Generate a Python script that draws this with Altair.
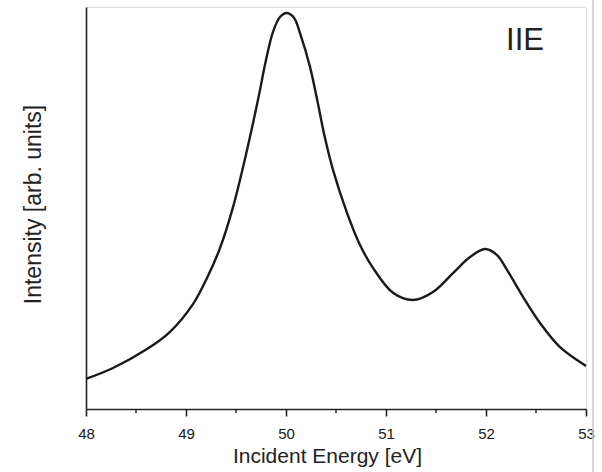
import altair as alt
import pandas as pd

# Incident energy (eV) and intensity (arb. units)
energy = [48.00, 48.27, 48.61, 48.84, 49.07, 49.21, 49.34, 49.47, 49.61, 49.72,
          49.80, 49.87, 49.94, 50.01, 50.08, 50.14, 50.24, 50.31, 50.39, 50.47,
          50.61, 50.74, 50.87, 51.07, 51.27, 51.47, 51.67, 51.84, 51.99, 52.11,
          52.21, 52.37, 52.54, 52.74, 53.00]
intensity = [0.075, 0.102, 0.149, 0.192, 0.261, 0.326, 0.400, 0.502, 0.644, 0.769,
             0.868, 0.938, 0.975, 0.985, 0.973, 0.935, 0.851, 0.771, 0.674, 0.595,
             0.488, 0.408, 0.351, 0.289, 0.271, 0.291, 0.338, 0.378, 0.398, 0.383,
             0.346, 0.279, 0.214, 0.154, 0.107]

major_ticks = [48, 49, 50, 51, 52, 53]
minor_ticks = [48.5, 49.5, 50.5, 51.5, 52.5]

FONT = "Liberation Sans"
W, H = 500, 402

df = pd.DataFrame({"energy": energy, "intensity": intensity})
minor_df = pd.DataFrame({"tick": minor_ticks})

xscale = alt.Scale(domain=[48, 53], nice=False, zero=False)
yscale = alt.Scale(domain=[0, 1], nice=False, zero=True)

line = alt.Chart(df).mark_line(
    color="#1a1a1a", strokeWidth=2.4, interpolate="catmull-rom"
).encode(
    x=alt.X("energy:Q", scale=xscale,
            axis=alt.Axis(values=major_ticks, title="Incident Energy [eV]",
                          format="d", grid=False, domainColor="#222",
                          domainWidth=1.6, tickColor="#222", tickWidth=1.6,
                          tickSize=7, labelFont=FONT, labelFontSize=15,
                          labelColor="#1a1a1a", labelPadding=22,
                          labelBaseline="alphabetic", labelFlush=False,
                          titleFont=FONT, titleFontSize=21,
                          titleFontWeight="normal", titleColor="#222",
                          titleX=241, titleY=53, titleBaseline="alphabetic",
                          titleAlign="center")),
    y=alt.Y("intensity:Q", scale=yscale,
            axis=alt.Axis(title="Intensity [arb. units]", labels=False,
                          ticks=False, grid=False, domainColor="#222",
                          domainWidth=1.6, titleFont=FONT, titleFontSize=23,
                          titleFontWeight="normal", titleColor="#222",
                          titleX=-46, titleY=197, titleAngle=-90,
                          titleBaseline="alphabetic", titleAlign="center")),
)

minor = alt.Chart(minor_df).mark_rule(color="#222", strokeWidth=1.5).encode(
    x=alt.X("tick:Q", scale=xscale),
    y=alt.value(H),
    y2=alt.value(H + 4),
)

label = alt.Chart(pd.DataFrame({"t": ["IIE"]})).mark_text(
    font=FONT, fontSize=31, color="#222", align="center", baseline="alphabetic"
).encode(
    text="t:N",
    x=alt.value(439),
    y=alt.value(43),
)

border = alt.Chart(pd.DataFrame({"t": [0]})).mark_rule(
    color="#c8c8c8", strokeWidth=1.5
).encode(
    x=alt.value(507),
    y=alt.value(-7),
    y2=alt.value(H + 63),
)

chart = alt.layer(line, minor, label, border).properties(
    width=W, height=H,
    autosize=alt.AutoSizeParams(type="none"),
    padding={"left": 86, "top": 7, "right": 16, "bottom": 63},
).configure_view(stroke=None).configure(background="white")

chart.save("out.html", embed_options={"renderer": "svg", "actions": False})
